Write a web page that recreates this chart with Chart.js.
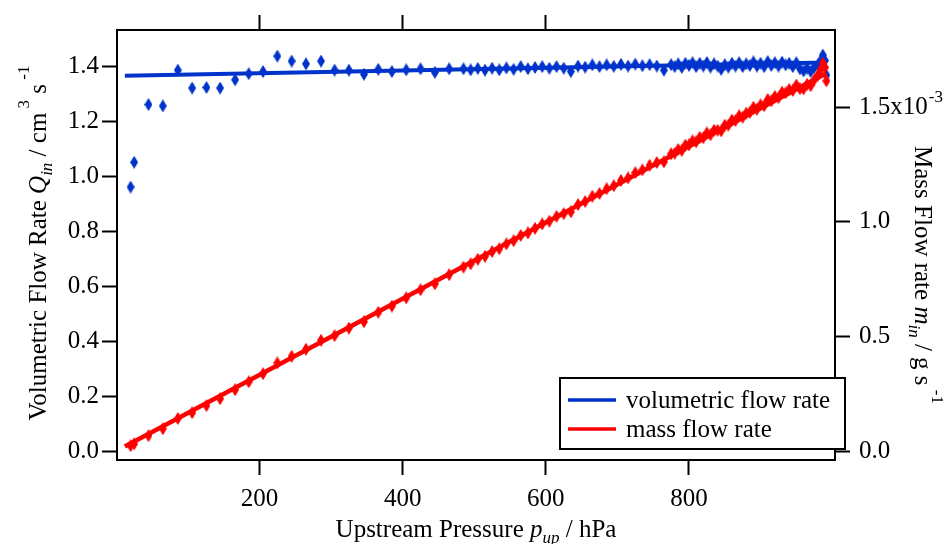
<!DOCTYPE html>
<html>
<head>
<meta charset="utf-8">
<script src="https://cdn.jsdelivr.net/npm/chart.js@4.4.1/dist/chart.umd.min.js"></script>
<style>
  html, body { margin: 0; padding: 0; background: #fff; }
  #wrap { width: 945px; height: 544px; }
</style>
</head>
<body>
<div id="wrap"><canvas id="c" width="945" height="544"></canvas></div>
<script>
// upstream pressure p_up / hPa, one entry per measurement
const pressure = [
  20, 25, 45, 65, 86, 106, 126, 145, 166, 185, 205, 225, 245, 265, 286, 305, 325, 346, 366, 385,
  405, 425, 445, 465, 485, 495, 505, 515, 525, 535, 545, 555, 565, 575, 585, 595, 605, 615, 625, 635,
  645, 655, 665, 675, 685, 695, 705, 715, 725, 735, 745, 755, 765, 775, 780, 785, 790, 795, 800, 805,
  810, 815, 820, 825, 830, 835, 840, 845, 850, 855, 860, 865, 870, 875, 880, 885, 890, 895, 900, 905,
  910, 915, 920, 925, 930, 935, 940, 945, 950, 955, 960, 965, 970, 975, 980, 984, 987, 990, 992
];
// volumetric flow rate Q_in / cm^3 s^-1 (left axis)
const volFlow = [
  0.960, 1.050, 1.260, 1.255, 1.385, 1.320, 1.322, 1.320, 1.350, 1.372, 1.380, 1.436, 1.418, 1.408, 1.418, 1.385, 1.385, 1.370, 1.388, 1.380,
  1.386, 1.390, 1.377, 1.390, 1.390, 1.386, 1.391, 1.385, 1.392, 1.386, 1.393, 1.388, 1.398, 1.390, 1.395, 1.398, 1.392, 1.398, 1.392, 1.380,
  1.400, 1.396, 1.404, 1.398, 1.404, 1.399, 1.406, 1.400, 1.407, 1.401, 1.405, 1.400, 1.385, 1.405, 1.398, 1.408, 1.395, 1.410, 1.402, 1.412,
  1.398, 1.410, 1.400, 1.413, 1.396, 1.408, 1.400, 1.388, 1.405, 1.396, 1.410, 1.400, 1.412, 1.398, 1.408, 1.402, 1.415, 1.400, 1.410, 1.398,
  1.416, 1.402, 1.412, 1.400, 1.414, 1.404, 1.410, 1.398, 1.412, 1.390, 1.382, 1.392, 1.380, 1.395, 1.405, 1.420, 1.440, 1.420, 1.367
];
// mass flow rate m_in / 1e-3 g s^-1 (right axis)
const massFlow = [
  0.023, 0.031, 0.067, 0.097, 0.142, 0.167, 0.198, 0.228, 0.267, 0.302, 0.337, 0.384, 0.413, 0.444, 0.483, 0.503, 0.536, 0.564, 0.605, 0.632,
  0.668, 0.703, 0.729, 0.769, 0.802, 0.816, 0.836, 0.849, 0.870, 0.882, 0.903, 0.917, 0.940, 0.951, 0.971, 0.990, 1.002, 1.023, 1.035, 1.043,
  1.075, 1.088, 1.111, 1.123, 1.144, 1.157, 1.180, 1.191, 1.214, 1.226, 1.246, 1.258, 1.261, 1.296, 1.298, 1.315, 1.311, 1.334, 1.335, 1.353,
  1.348, 1.368, 1.366, 1.387, 1.379, 1.399, 1.399, 1.396, 1.421, 1.421, 1.443, 1.441, 1.462, 1.456, 1.474, 1.477, 1.499, 1.491, 1.510, 1.506,
  1.533, 1.527, 1.546, 1.541, 1.565, 1.562, 1.577, 1.572, 1.596, 1.580, 1.579, 1.599, 1.593, 1.619, 1.639, 1.663, 1.691, 1.673, 1.614
];
// straight fit lines, end points only
const volFitP = [12, 992];
const volFitQ = [1.365, 1.413];
const massFitP = [12, 992];
const massFitM = [0.020, 1.647];

const xTicks = [200, 400, 600, 800];
const leftTicks = [0, 0.2, 0.4, 0.6, 0.8, 1.0, 1.2, 1.4];
const rightTicks = [0, 0.5, 1.0, 1.5];

const BLUE = '#0033cc';
const RED = '#ff0000';
const SERIF = '"Liberation Serif", "Times New Roman", serif';

// tall thin diamond marker, like the original plot uses
function diamond(color) {
  const c = document.createElement('canvas');
  c.width = 8; c.height = 13;
  const g = c.getContext('2d');
  g.fillStyle = color;
  g.beginPath();
  g.moveTo(4, 0); g.lineTo(8, 6.5); g.lineTo(4, 13); g.lineTo(0, 6.5);
  g.closePath();
  g.fill();
  return c;
}

const pts = (xs, ys) => xs.map((x, i) => ({ x, y: ys[i] }));

const tickFont = { family: SERIF, size: 25 };
const frameGrid = { display: true, drawOnChartArea: false, drawTicks: true, tickLength: 15, tickWidth: 2, tickColor: '#000' };
const frameBorder = { display: true, color: '#000', width: 2 };

// draw a run of text pieces (normal / italic / sub / sup) centred at cx,cy
function drawRich(ctx, runs, cx, cy, angle) {
  ctx.save();
  ctx.translate(cx, cy);
  ctx.rotate(angle);
  ctx.fillStyle = '#000';
  ctx.textBaseline = 'alphabetic';
  ctx.textAlign = 'left';
  let total = 0;
  runs.forEach((r) => { ctx.font = r.f; total += ctx.measureText(r.t).width; });
  let x = -total / 2;
  runs.forEach((r) => {
    ctx.font = r.f;
    ctx.fillText(r.t, x, r.dy || 0);
    x += ctx.measureText(r.t).width;
  });
  ctx.restore();
}

const N = '25px ' + SERIF;
const I = 'italic 25px ' + SERIF;
const S = '17px ' + SERIF;
const IS = 'italic 17px ' + SERIF;

const decorations = {
  id: 'decorations',
  afterDraw(chart) {
    const ctx = chart.ctx;

    // exponent on the right axis top label
    const y2 = chart.scales.y2;
    ctx.save();
    ctx.font = N;
    const baseX = y2.left + 15 + 9;
    const w = ctx.measureText('1.5x10').width;
    ctx.font = S;
    ctx.fillStyle = '#000';
    ctx.textBaseline = 'middle';
    ctx.fillText('-3', baseX + w + 1, y2.getPixelForValue(1.5) - 10);
    ctx.restore();

    // axis titles
    drawRich(ctx, [
      { t: 'Volumetric Flow Rate ', f: N },
      { t: 'Q', f: I },
      { t: 'in', f: IS, dy: 6 },
      { t: ' / cm', f: N },
      { t: ' 3', f: S, dy: -17 },
      { t: ' s', f: N },
      { t: ' -1', f: S, dy: -17 },
    ], 46, 243, -Math.PI / 2);
    drawRich(ctx, [
      { t: 'Mass Flow rate ', f: N },
      { t: 'm', f: I },
      { t: 'in', f: IS, dy: 6 },
      { t: ' / g s', f: N },
      { t: ' -1', f: S, dy: -17 },
    ], 915, 275, Math.PI / 2);
    drawRich(ctx, [
      { t: 'Upstream Pressure ', f: N },
      { t: 'p', f: I },
      { t: 'up', f: IS, dy: 6 },
      { t: ' / hPa', f: N },
    ], 476, 537, 0);

    // legend box inside the plot, overlapping the right axis
    const items = chart.data.datasets.filter((d) => d.label).reverse();
    ctx.save();
    ctx.fillStyle = '#fff';
    ctx.fillRect(560, 378, 285, 71);
    ctx.strokeStyle = '#000';
    ctx.lineWidth = 2;
    ctx.strokeRect(560, 378, 285, 71);
    items.forEach((d, i) => {
      const y = 400 + i * 29;
      ctx.strokeStyle = d.borderColor;
      ctx.lineWidth = 3.5;
      ctx.beginPath();
      ctx.moveTo(568, y);
      ctx.lineTo(616, y);
      ctx.stroke();
      ctx.fillStyle = '#000';
      ctx.font = N;
      ctx.textBaseline = 'alphabetic';
      ctx.fillText(d.label, 626, y + 8);
    });
    ctx.restore();
  },
};

new Chart(document.getElementById('c'), {
  type: 'scatter',
  data: {
    datasets: [
      {
        label: 'mass flow rate',
        data: pts(massFitP, massFitM),
        yAxisID: 'y2',
        showLine: true,
        borderColor: RED,
        borderWidth: 4.5,
        pointRadius: 0,
        order: 1,
      },
      {
        data: pts(pressure, massFlow),
        yAxisID: 'y2',
        pointStyle: diamond(RED),
        pointRadius: 5,
        order: 2,
      },
      {
        label: 'volumetric flow rate',
        data: pts(volFitP, volFitQ),
        yAxisID: 'y',
        showLine: true,
        borderColor: BLUE,
        borderWidth: 4,
        pointRadius: 0,
        order: 3,
      },
      {
        data: pts(pressure, volFlow),
        yAxisID: 'y',
        pointStyle: diamond(BLUE),
        pointRadius: 5,
        order: 4,
      },
    ],
  },
  options: {
    responsive: false,
    animation: false,
    devicePixelRatio: 1,
    layout: { padding: 0 },
    plugins: { legend: { display: false }, tooltip: { enabled: false } },
    scales: {
      x: {
        type: 'linear', position: 'bottom', min: 1, max: 1004,
        afterBuildTicks: (s) => { s.ticks = xTicks.map((v) => ({ value: v })); },
        afterFit: (s) => { s.height = 84; },
        ticks: { font: tickFont, color: '#000', padding: 9, maxRotation: 0, callback: (v) => String(v) },
        grid: frameGrid, border: frameBorder,
      },
      x2: {
        type: 'linear', position: 'top', min: 1, max: 1004,
        afterBuildTicks: (s) => { s.ticks = xTicks.map((v) => ({ value: v })); },
        afterFit: (s) => { s.height = 30; },
        ticks: { font: tickFont, callback: () => '' },
        grid: frameGrid, border: frameBorder,
      },
      y: {
        type: 'linear', position: 'left', min: -0.0327, max: 1.531,
        afterBuildTicks: (s) => { s.ticks = leftTicks.map((v) => ({ value: v })); },
        afterFit: (s) => { s.width = 117; },
        ticks: { font: tickFont, color: '#000', padding: 3, callback: (v) => v.toFixed(1) },
        grid: frameGrid, border: frameBorder,
      },
      y2: {
        type: 'linear', position: 'right', min: -0.0392, max: 1.836,
        afterBuildTicks: (s) => { s.ticks = rightTicks.map((v) => ({ value: v })); },
        afterFit: (s) => { s.width = 110; },
        ticks: { font: tickFont, color: '#000', padding: 9, callback: (v) => (v === 1.5 ? '1.5x10' : v.toFixed(1)) },
        grid: frameGrid, border: frameBorder,
      },
    },
  },
  plugins: [decorations],
});
</script>
</body>
</html>
